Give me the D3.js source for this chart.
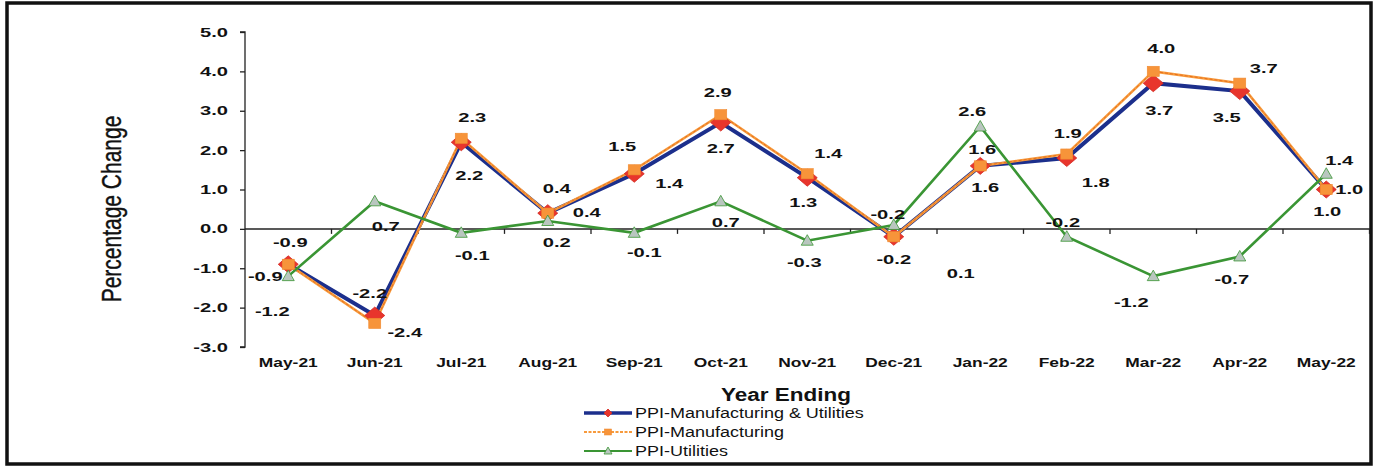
<!DOCTYPE html>
<html>
<head>
<meta charset="utf-8">
<script src="https://cdn.jsdelivr.net/npm/d3@7/dist/d3.min.js"></script>
<style>
  html, body { margin: 0; padding: 0; background: #fff; }
  svg { display: block; }
  text { font-family: "Liberation Sans", Arial, sans-serif; fill: #111; }
</style>
</head>
<body>
<svg id="chart" width="1375" height="468"></svg>
<script>
// ---------- data ----------
const categories = ["May-21","Jun-21","Jul-21","Aug-21","Sep-21","Oct-21","Nov-21","Dec-21","Jan-22","Feb-22","Mar-22","Apr-22","May-22"];
const mfgUtil = [-0.9, -2.2, 2.2, 0.4, 1.4, 2.7, 1.3, -0.2, 1.6, 1.8, 3.7, 3.5, 1.0];
const mfg     = [-0.9, -2.4, 2.3, 0.4, 1.5, 2.9, 1.4, -0.2, 1.6, 1.9, 4.0, 3.7, 1.0];
const util    = [-1.2, 0.7, -0.1, 0.2, -0.1, 0.7, -0.3, 0.1, 2.6, -0.2, -1.2, -0.7, 1.4];
const yTicks  = [5, 4, 3, 2, 1, 0, -1, -2, -3];
const seriesNames = ["PPI-Manufacturing & Utilities", "PPI-Manufacturing", "PPI-Utilities"];

// label placement offsets (px) relative to each point
const offMfgUtil = [[-23,12],[-5,-22],[8,33],[39,-1],[35,10],[0,26],[-4,25],[0,23],[5,22],[29,24],[6,27],[-13,26],[1,22]];
const offMfg     = [[2,-22],[30,9],[11,-21],[9,-25],[-12,-23],[-3,-22],[21,-20],[-6,-22],[2,-16],[1,-21],[8,-23],[24,-15],[23,0]];
const offUtil    = [[-16,35],[11,25],[11,23],[9,21],[10,20],[5,21],[-3,22],[67,49],[-8,-15],[-4,-14],[-22,26],[-8,23],[13,-13]];

// ---------- layout ----------
const svg = d3.select("#chart");
const x = d3.scaleBand().domain(categories).range([245, 1369.5]).padding(0);
const y = d3.scaleLinear().domain([-3, 5]).range([347, 32]);
const cx = c => x(c) + x.bandwidth() / 2;
const fmt = v => d3.format(".1f")(v).replace("\u2212", "-");

function stretchText(g, txt, px, py, opts) {
  const o = Object.assign({size: 13, weight: "bold", sx: 1.5, anchor: "middle"}, opts || {});
  return g.append("text")
    .attr("transform", `translate(${px},${py}) scale(${o.sx},1)`)
    .attr("text-anchor", o.anchor)
    .attr("dy", "0.35em")
    .style("font-size", o.size + "px")
    .style("font-weight", o.weight)
    .text(txt);
}

// frame
svg.append("rect").attr("x", 7).attr("y", 3).attr("width", 1364).attr("height", 461)
  .attr("fill", "none").attr("stroke", "#111").attr("stroke-width", 3.5);

// y axis
const yAxis = d3.axisLeft(y).tickValues(yTicks).tickSize(5).tickFormat(() => "");
const ya = svg.append("g").attr("transform", "translate(245,0)").call(yAxis);
ya.selectAll("path,line").attr("stroke", "#222").attr("stroke-width", 1.3);
ya.select(".domain").attr("d", `M-5,${y(5)}H0V${y(-3)}H-5`);
const yl = svg.append("g");
yTicks.forEach(v => stretchText(yl, fmt(v), 228, y(v), {anchor: "end", sx: 1.55}));

// zero line (x axis) with ticks between categories
const xa = svg.append("g");
xa.append("line").attr("x1", 245).attr("x2", 1370).attr("y1", y(0)).attr("y2", y(0))
  .attr("stroke", "#222").attr("stroke-width", 1.5);
categories.forEach((c, i) => {
  if (i === 0) return;
  xa.append("line").attr("x1", x(c)).attr("x2", x(c)).attr("y1", y(0)).attr("y2", y(0) + 5)
    .attr("stroke", "#222").attr("stroke-width", 1.3);
});
xa.append("line").attr("x1", 1369.5).attr("x2", 1369.5).attr("y1", y(0)).attr("y2", y(0) + 5)
  .attr("stroke", "#222").attr("stroke-width", 1.3);

// category labels
const cl = svg.append("g");
categories.forEach(c => stretchText(cl, c, cx(c), 363, {size: 12, sx: 1.45}));

// axis titles
svg.append("text")
  .attr("transform", "translate(111,209) scale(1.3,1) rotate(-90)")
  .attr("text-anchor", "middle").attr("dy", "0.35em")
  .style("font-size", "21px").style("stroke", "#111").style("stroke-width", 0.3)
  .text("Percentage Change");
stretchText(svg, "Year Ending", 786, 395, {size: 18, sx: 1.25});

// ---------- lines ----------
const line = d3.line().x((d, i) => cx(categories[i])).y(d => y(d));
svg.append("path").datum(mfgUtil).attr("d", line).attr("fill", "none")
  .attr("stroke", "#1c2f8c").attr("stroke-width", 4);
svg.append("path").datum(mfg).attr("d", line).attr("fill", "none")
  .attr("stroke", "#f79a3c").attr("stroke-width", 2.6);
svg.append("path").datum(mfg).attr("d", line).attr("fill", "none")
  .attr("stroke", "#e8701e").attr("stroke-width", 1).attr("stroke-dasharray", "3,2");
svg.append("path").datum(util).attr("d", line).attr("fill", "none")
  .attr("stroke", "#3a9534").attr("stroke-width", 2.6);

// ---------- markers ----------
function diamond(g, px, py, w, h) {
  g.append("path").attr("d", `M${px},${py - h}L${px + w},${py}L${px},${py + h}L${px - w},${py}Z`)
    .attr("fill", "#e8352c").attr("stroke", "#d42a22").attr("stroke-width", 0.8);
}
function square(g, px, py, s) {
  g.append("rect").attr("x", px - s).attr("y", py - s * 0.85).attr("width", 2 * s).attr("height", 1.7 * s)
    .attr("fill", "#f7943a").attr("stroke", "#f08a30").attr("stroke-width", 0.6);
}
function tri(g, px, py, s) {
  g.append("path").attr("d", `M${px},${py - s}L${px + s},${py + s * 0.75}L${px - s},${py + s * 0.75}Z`)
    .attr("fill", "#b9c6bf").attr("stroke", "#3a9534").attr("stroke-width", 0.8);
}
const mk = svg.append("g");
mfgUtil.forEach((v, i) => diamond(mk, cx(categories[i]), y(v), 10, 8.5));
mfg.forEach((v, i) => square(mk, cx(categories[i]), y(v), 6));
util.forEach((v, i) => tri(mk, cx(categories[i]), y(v), 6));

// ---------- data labels ----------
const lb = svg.append("g");
function labels(arr, offs) {
  arr.forEach((v, i) => stretchText(lb, fmt(v), cx(categories[i]) + offs[i][0], y(v) + offs[i][1], {sx: 1.55}));
}
labels(mfgUtil, offMfgUtil);
labels(mfg, offMfg);
labels(util, offUtil);

// ---------- legend ----------
const lg = svg.append("g");
const legRows = [413, 432, 451];
lg.append("line").attr("x1", 584).attr("x2", 632).attr("y1", legRows[0]).attr("y2", legRows[0])
  .attr("stroke", "#1c2f8c").attr("stroke-width", 3.5);
diamond(lg, 608, legRows[0], 4, 4);
lg.append("line").attr("x1", 584).attr("x2", 632).attr("y1", legRows[1]).attr("y2", legRows[1])
  .attr("stroke", "#f79a3c").attr("stroke-width", 2.2).attr("stroke-dasharray", "3,1.5");
square(lg, 608, legRows[1], 3.5);
lg.append("line").attr("x1", 584).attr("x2", 632).attr("y1", legRows[2]).attr("y2", legRows[2])
  .attr("stroke", "#3a9534").attr("stroke-width", 2.2);
tri(lg, 608, legRows[2], 4);
seriesNames.forEach((n, i) => stretchText(lg, n, 635, legRows[i], {size: 15, weight: "normal", sx: 1.2, anchor: "start"}));
</script>
</body>
</html>
